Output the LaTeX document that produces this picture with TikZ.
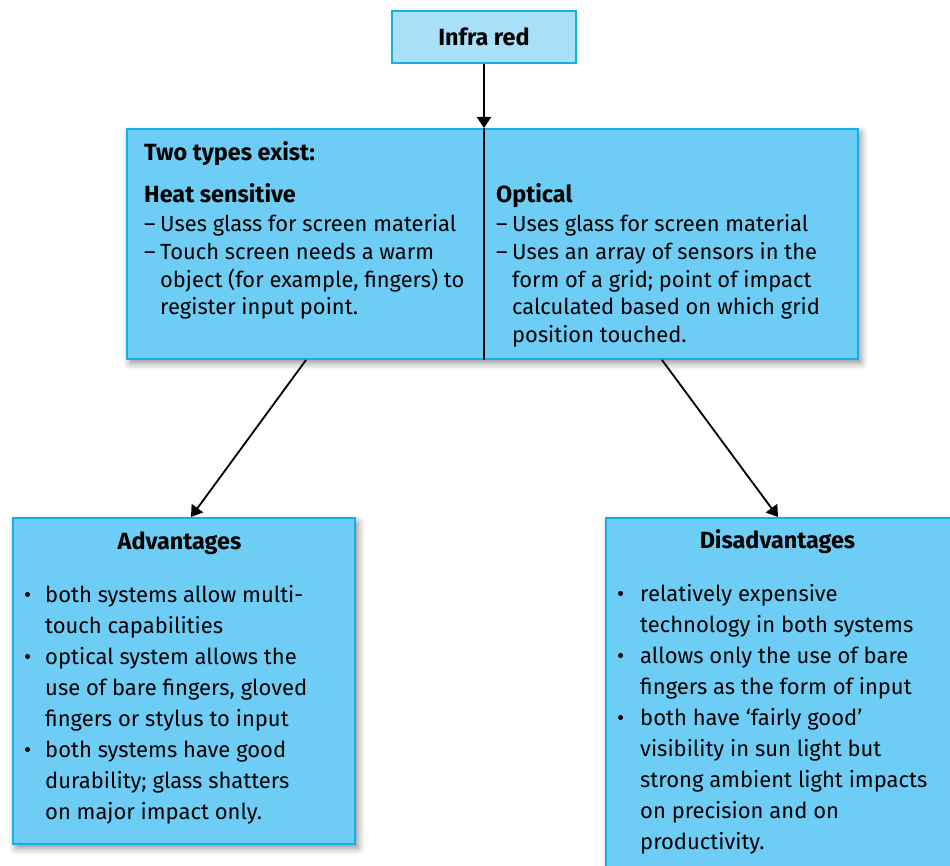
\documentclass[tikz,border=0pt]{standalone}
\usepackage{fontspec}
\setmainfont{Fira Sans}
\usetikzlibrary{arrows.meta,shadows.blur}
\definecolor{boxfill}{HTML}{6DCDF5}
\definecolor{topfill}{HTML}{A8E0FA}
\definecolor{boxline}{HTML}{14AEEA}
\newcommand\mainfont{\fontsize{21.9}{27.6}\selectfont}
\newcommand\lowfont{\fontsize{22}{31.1}\selectfont}
\newcommand\boldsz{\bfseries\fontsize{23.4}{27.6}\selectfont}
\tikzset{
  panel/.style={draw=boxline, line width=2pt, fill=boxfill, inner sep=0pt,
    blur shadow={shadow xshift=3pt, shadow yshift=-4pt, shadow blur radius=7pt, shadow opacity=45}},
  topbox/.style={draw=boxline, line width=2pt, fill=topfill, inner sep=0pt,
    minimum width=184pt, minimum height=52pt, font=\boldsz},
  conn/.style={line width=2pt, -{Triangle[length=11pt,width=14pt]}},
  divider/.style={line width=2pt},
  txt/.style={inner sep=0pt, anchor=base west},
  ttl/.style={inner sep=0pt, anchor=base, font=\boldsz},
}
\begin{document}
\begin{tikzpicture}[x=1pt,y=1pt]
\useasboundingbox (0,0) rectangle (950,-866);
% boxes
\node[topbox] (top) at (484,-37) {Infra red};
\node[panel, anchor=north west, minimum width=731pt, minimum height=230pt] (main) at (126,-128) {};
\node[panel, anchor=north west, minimum width=342pt, minimum height=326pt] (adv) at (12,-517) {};
\node[panel, anchor=north west, minimum width=350pt, minimum height=400pt] (dis) at (605,-517) {};
% connectors
\coordinate (mtop) at (top.south |- main.north);
\coordinate (mbot) at (top.south |- main.south);
\draw[conn] (top.south) -- (mtop);
\draw[divider] (mtop) -- (mbot);
\coordinate (ls) at ([xshift=180pt]main.south west);
\coordinate (rs) at ([xshift=-197pt]main.south east);
\draw[conn, line width=1.8pt] (ls) -- ([xshift=7pt]adv.north);
\draw[conn, line width=1.8pt] (rs) -- ([xshift=-3pt]dis.north);
% main box text
\node[txt, font=\boldsz] (two) at (144,-161) {Two types exist:};
\node[txt, font=\boldsz] (heat) at (144,-203) {Heat sensitive};
\node[txt, font=\mainfont] (heatl) at (144,-232) {\begin{tabular}[t]{@{}p{16pt}@{}l@{}}
– & Uses glass for screen material\\
– & Touch screen needs a warm\\
  & object (for example, fingers) to\\
  & register input point.
\end{tabular}};
\node[txt, font=\boldsz] (opt) at (496,-203) {Optical};
\node[txt, font=\mainfont] (optl) at (496,-232) {\begin{tabular}[t]{@{}p{16pt}@{}l@{}}
– & Uses glass for screen material\\
– & Uses an array of sensors in the\\
  & form of a grid; point of impact\\
  & calculated based on which grid\\
  & position touched.
\end{tabular}};
% advantages
\node[ttl] (advt) at (179.5,-549) {Advantages};
\node[txt, font=\lowfont] (advl) at (24,-602) {\begin{tabular}[t]{@{}p{21pt}@{}l@{}}
• & both systems allow multi-\\
  & touch capabilities\\
• & optical system allows the\\
  & use of bare fingers, gloved\\
  & fingers or stylus to input\\
• & both systems have good\\
  & durability; glass shatters\\
  & on major impact only.
\end{tabular}};
% disadvantages
\node[ttl] (dist) at (777.5,-548) {Disadvantages};
\node[txt, font=\lowfont] (disl) at (617,-601) {\begin{tabular}[t]{@{}p{23pt}@{}l@{}}
• & relatively expensive\\
  & technology in both systems\\
• & allows only the use of bare\\
  & fingers as the form of input\\
• & both have ‘fairly good’\\
  & visibility in sun light but\\
  & strong ambient light impacts\\
  & on precision and on\\
  & productivity.
\end{tabular}};
\end{tikzpicture}
\end{document}
